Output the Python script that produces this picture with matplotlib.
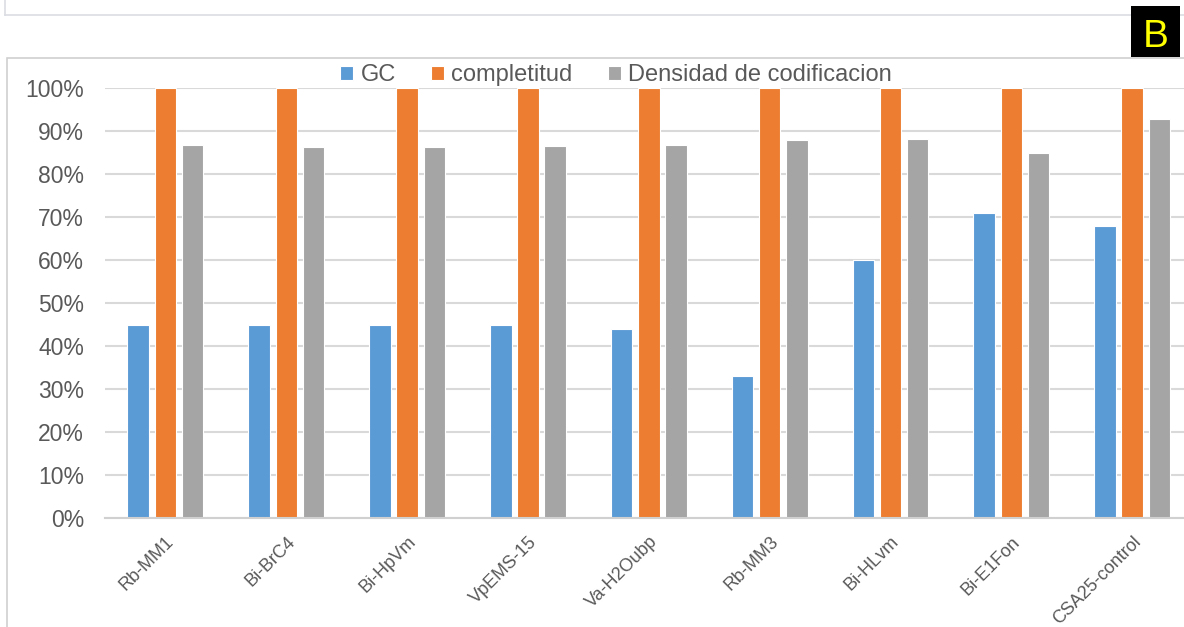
import numpy as np
import matplotlib
matplotlib.use("Agg")
import matplotlib.pyplot as plt
from matplotlib.patches import Rectangle
from matplotlib.lines import Line2D
from matplotlib.ticker import PercentFormatter

plt.rcParams['font.family'] = ['Liberation Sans', 'DejaVu Sans']

muestras = ['Rb-MM1', 'Bi-BrC4', 'Bi-HpVm', 'VpEMS-15', 'Va-H2Oubp',
            'Rb-MM3', 'Bi-HLvm', 'Bi-E1Fon', 'CSA25-control']
gc = [45, 45, 45, 45, 44, 33, 60, 71, 68]
completitud = [100, 100, 100, 100, 100, 100, 100, 100, 100]
densidad = [86.8, 86.3, 86.3, 86.5, 86.8, 87.9, 88.1, 84.8, 92.9]

series = ['GC', 'completitud', 'Densidad de codificacion']
colores = ['#5b9bd5', '#ed7d31', '#a5a5a5']
gris = '#595959'

W, H = 1184, 627
fig = plt.figure(figsize=(W / 100, H / 100), dpi=100)

# remains of the panel above and the chart frame
fig.add_artist(Line2D([5 / W, 1.0], [1 - 15 / H, 1 - 15 / H], color='#dadde3', lw=1.2, zorder=0))
fig.add_artist(Line2D([5 / W, 5 / W], [1 - 15 / H, 1.0], color='#dadde3', lw=1.2, zorder=0))
fig.add_artist(Rectangle((7 / W, -0.1), 1.2, 1 - 58 / H + 0.1, fill=False,
                         edgecolor='#d0d0d0', lw=1.2, zorder=0))

ax = fig.add_axes([105 / W, 1 - 518 / H, 1 - 105 / W, (518 - 88) / H])
x = np.arange(len(muestras))
ancho = 0.178
paso = 0.225
for i, (vals, c, nom) in enumerate(zip([gc, completitud, densidad], colores, series)):
    ax.bar(x + (i - 1) * paso, np.array(vals) / 100, ancho, color=c,
           edgecolor='white', linewidth=0.8, label=nom, zorder=3)

ax.set_xlim(-0.5, (W - 165) / 120.9)
ax.set_ylim(0, 1)
ax.set_yticks(np.arange(0, 1.01, 0.1))
ax.yaxis.set_major_formatter(PercentFormatter(1.0, decimals=0))
ax.grid(axis='y', color='#d9d9d9', lw=1.5, zorder=0)
for s in ['top', 'right', 'left']:
    ax.spines[s].set_visible(False)
ax.spines['bottom'].set_color('#d0d0d0')
ax.spines['bottom'].set_linewidth(1.5)
ax.spines['bottom'].set_zorder(4)
ax.tick_params(axis='y', length=0, pad=15, labelsize=16.5, labelcolor=gris)
ax.tick_params(axis='x', length=0, pad=11, labelsize=13, labelcolor=gris)
ax.set_xticks(x)
ax.set_xticklabels(muestras, rotation=45, ha='right', rotation_mode='anchor')

fig.legend(loc='center', bbox_to_anchor=(616 / W, 1 - 75 / H), ncol=3,
           frameon=False, fontsize=17, labelcolor=gris, handlelength=0.55,
           handleheight=0.55, handletextpad=0.3, columnspacing=1.5,
           borderpad=0)

# panel letter
fig.add_artist(Rectangle((1131 / W, 1 - 57 / H), (1180 - 1131) / W, 51 / H,
                         facecolor='black', edgecolor='none', zorder=5))
fig.text(1156 / W, 1 - 47 / H, 'B', color='#ffff00', fontsize=28,
         ha='center', va='baseline', zorder=6)

plt.savefig('out.png', dpi=100)
